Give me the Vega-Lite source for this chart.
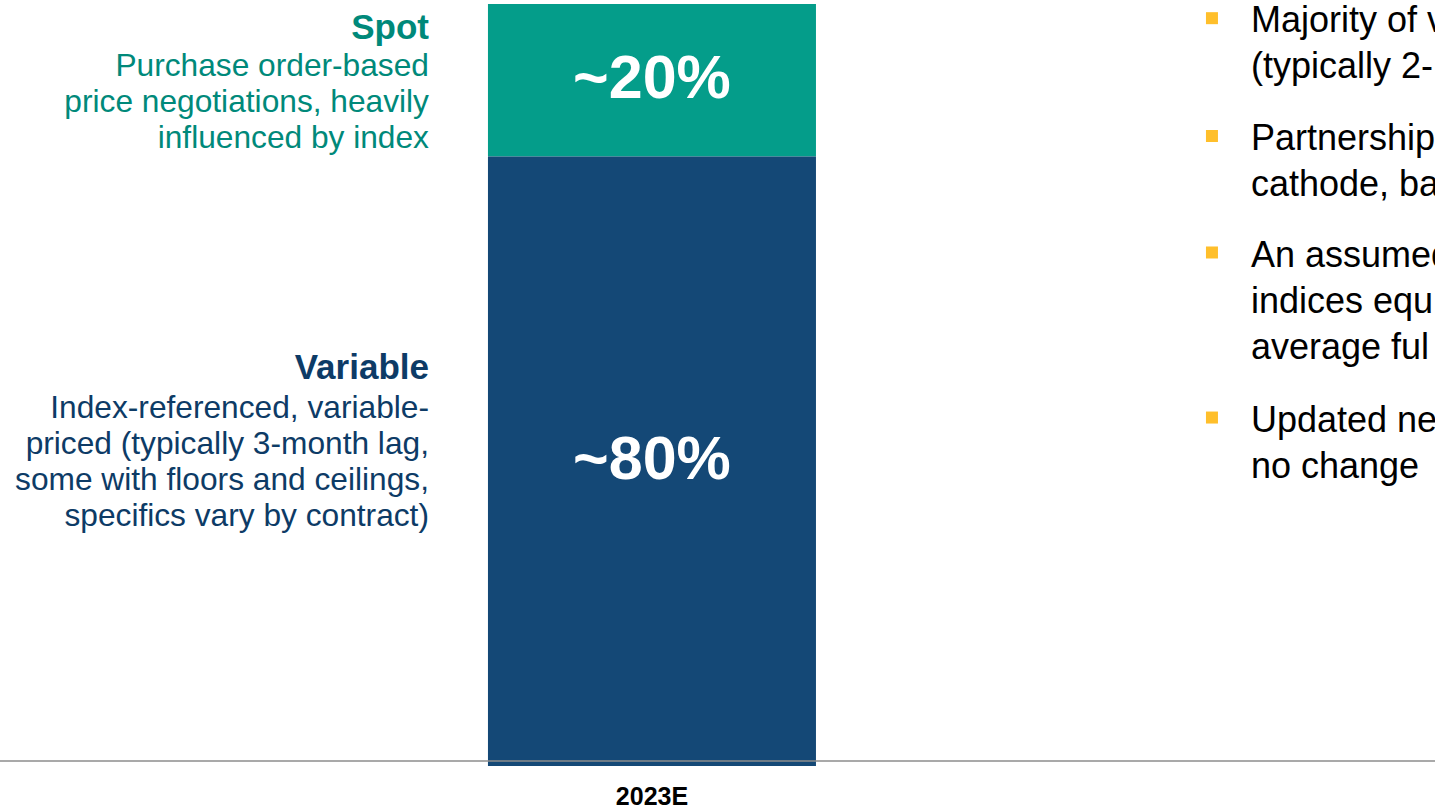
{
  "$schema": "https://vega.github.io/schema/vega-lite/v6.json",
  "width": 1435,
  "height": 766,
  "autosize": {"type": "none"},
  "padding": {"left": 0, "top": 0, "right": 0, "bottom": 42},
  "background": "white",
  "config": {"view": {"stroke": null}, "font": "Liberation Sans"},
  "datasets": {
    "bars": [
      {"period": "2023E", "type": "Spot", "share": 20, "label": "~20%"},
      {"period": "2023E", "type": "Variable", "share": 80, "label": "~80%"}
    ]
  },
  "layer": [
    {
      "data": {"name": "bars"},
      "transform": [
        {"stack": "share", "groupby": ["period"], "sort": [{"field": "type", "order": "descending"}], "as": ["lo", "hi"]}
      ],
      "mark": {"type": "bar"},
      "encoding": {
        "x": {
          "field": "period", "type": "nominal",
          "scale": {"paddingInner": 0.4074, "paddingOuter": 1, "align": 0.4408, "round": false},
          "axis": {"title": null, "labelFont": "Liberation Sans", "labelFontWeight": "bold", "labelFontSize": 25, "labelColor": "#000000", "ticks": false, "tickSize": 0, "domain": false, "grid": false, "labelPadding": 18, "labelAngle": 0}
        },
        "y": {"field": "lo", "type": "quantitative", "scale": {"domain": [0, 100.525], "nice": false, "zero": false}, "axis": null},
        "y2": {"field": "hi"},
        "color": {"field": "type", "type": "nominal", "scale": {"domain": ["Spot", "Variable"], "range": ["#049D8A", "#144876"]}, "legend": null}
      }
    },
    {
      "data": {"name": "bars"},
      "transform": [
        {"stack": "share", "groupby": ["period"], "sort": [{"field": "type", "order": "descending"}], "as": ["lo", "hi"]},
        {"calculate": "(datum.lo + datum.hi) / 2", "as": "mid"}
      ],
      "mark": {"type": "text", "font": "Liberation Sans", "fontWeight": "bold", "fontSize": 61, "color": "#ffffff", "baseline": "middle", "align": "center"},
      "encoding": {
        "x": {"field": "period", "type": "nominal"},
        "y": {"field": "mid", "type": "quantitative"},
        "text": {"field": "label", "type": "nominal"}
      }
    },
    {
      "data": {"values": [{}]},
      "mark": {"type": "rule", "color": "#8c8c8c", "strokeWidth": 1.5},
      "encoding": {"y": {"datum": 0.656, "type": "quantitative"}}
    },
    {
      "data": {"values": [{}]},
      "mark": {"type": "text", "font": "Liberation Sans", "fontWeight": "bold", "fontSize": 35, "color": "#00897A", "align": "right", "baseline": "alphabetic", "dx": -223},
      "encoding": {"x": {"datum": "2023E"}, "y": {"datum": 95.41, "type": "quantitative"}, "text": {"value": "Spot"}}
    },
    {
      "data": {"values": [{}]},
      "mark": {"type": "text", "font": "Liberation Sans", "fontSize": 31.7, "lineHeight": 36, "color": "#00897A", "align": "right", "baseline": "alphabetic", "dx": -223},
      "encoding": {"x": {"datum": "2023E"}, "y": {"datum": 90.55, "type": "quantitative"}, "text": {"value": ["Purchase order-based", "price negotiations, heavily", "influenced by index"]}}
    },
    {
      "data": {"values": [{}]},
      "mark": {"type": "text", "font": "Liberation Sans", "fontWeight": "bold", "fontSize": 35, "color": "#0D3B66", "align": "right", "baseline": "alphabetic", "dx": -223},
      "encoding": {"x": {"datum": "2023E"}, "y": {"datum": 50.75, "type": "quantitative"}, "text": {"value": "Variable"}}
    },
    {
      "data": {"values": [{}]},
      "mark": {"type": "text", "font": "Liberation Sans", "fontSize": 31.7, "lineHeight": 36, "color": "#0D3B66", "align": "right", "baseline": "alphabetic", "dx": -223},
      "encoding": {"x": {"datum": "2023E"}, "y": {"datum": 45.63, "type": "quantitative"}, "text": {"value": ["Index-referenced, variable-", "priced (typically 3-month lag,", "some with floors and ceilings,", "specifics vary by contract)"]}}
    },
    {
      "data": {"values": [{}]},
      "mark": {"type": "text", "font": "Liberation Sans", "fontSize": 36, "lineHeight": 46, "color": "#000000", "align": "left", "baseline": "alphabetic", "dx": 599},
      "encoding": {"x": {"datum": "2023E"}, "y": {"datum": 96.29, "type": "quantitative"}, "text": {"value": ["Majority of v", "(typically 2-"]}}
    },
    {
      "data": {"values": [{}]},
      "mark": {"type": "text", "font": "Liberation Sans", "fontSize": 36, "lineHeight": 46, "color": "#000000", "align": "left", "baseline": "alphabetic", "dx": 599},
      "encoding": {"x": {"datum": "2023E"}, "y": {"datum": 80.84, "type": "quantitative"}, "text": {"value": ["Partnership", "cathode, ba"]}}
    },
    {
      "data": {"values": [{}]},
      "mark": {"type": "text", "font": "Liberation Sans", "fontSize": 36, "lineHeight": 46, "color": "#000000", "align": "left", "baseline": "alphabetic", "dx": 599},
      "encoding": {"x": {"datum": "2023E"}, "y": {"datum": 65.49, "type": "quantitative"}, "text": {"value": ["An assumed", "indices equ", "average ful"]}}
    },
    {
      "data": {"values": [{}]},
      "mark": {"type": "text", "font": "Liberation Sans", "fontSize": 36, "lineHeight": 46, "color": "#000000", "align": "left", "baseline": "alphabetic", "dx": 599},
      "encoding": {"x": {"datum": "2023E"}, "y": {"datum": 43.87, "type": "quantitative"}, "text": {"value": ["Updated ne", "no change"]}}
    },
    {
      "data": {"values": [{}]},
      "mark": {"type": "point", "shape": "square", "size": 144, "filled": true, "opacity": 1, "color": "#FFBF2B"},
      "encoding": {"x": {"datum": "2023E"}, "xOffset": {"value": 724}, "y": {"datum": 98.14, "type": "quantitative"}}
    },
    {
      "data": {"values": [{}]},
      "mark": {"type": "point", "shape": "square", "size": 144, "filled": true, "opacity": 1, "color": "#FFBF2B"},
      "encoding": {"x": {"datum": "2023E"}, "xOffset": {"value": 724}, "y": {"datum": 82.68, "type": "quantitative"}}
    },
    {
      "data": {"values": [{}]},
      "mark": {"type": "point", "shape": "square", "size": 144, "filled": true, "opacity": 1, "color": "#FFBF2B"},
      "encoding": {"x": {"datum": "2023E"}, "xOffset": {"value": 724}, "y": {"datum": 67.39, "type": "quantitative"}}
    },
    {
      "data": {"values": [{}]},
      "mark": {"type": "point", "shape": "square", "size": 144, "filled": true, "opacity": 1, "color": "#FFBF2B"},
      "encoding": {"x": {"datum": "2023E"}, "xOffset": {"value": 724}, "y": {"datum": 45.73, "type": "quantitative"}}
    }
  ]
}
